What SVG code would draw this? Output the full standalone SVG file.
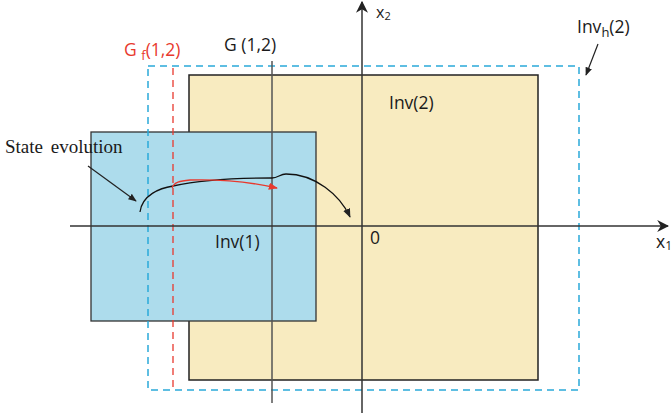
<svg xmlns="http://www.w3.org/2000/svg" width="672" height="416" viewBox="0 0 672 416">
<style>
.lbl{font-family:"Open Sans","Liberation Sans",sans-serif;font-size:17.5px;fill:#1a1a1a}
.ser{font-family:"Liberation Serif",serif;font-size:19px;fill:#1a1a1a;word-spacing:3px}
.axis{stroke:#333;stroke-width:1.5;fill:none}
.grid{stroke:#555;stroke-width:1.5;fill:none}
</style>
<defs>
<marker id="ah" viewBox="0 0 10 10" refX="9" refY="5" markerWidth="7" markerHeight="7" orient="auto"><path d="M0,1 L10,5 L0,9 Z" fill="#222"/></marker>
<marker id="ahr" viewBox="0 0 10 10" refX="9" refY="5" markerWidth="7" markerHeight="7" orient="auto"><path d="M0,1 L10,5 L0,9 Z" fill="#e8392e"/></marker>
<marker id="big" viewBox="0 0 10 10" refX="9" refY="5" markerWidth="12" markerHeight="12" markerUnits="userSpaceOnUse" orient="auto"><path d="M0,0 L10,5 L0,10 L3,5 Z" fill="#222"/></marker>
</defs>
<g id="inv2"><rect x="189" y="75" width="349" height="305" fill="#f8ebc0" stroke="#222" stroke-width="1.5"/><text class="lbl" x="389" y="109">Inv(2)</text></g>
<g id="inv1"><rect x="91" y="132" width="225" height="189" fill="#addcec" stroke="#333" stroke-width="1.3"/><text class="lbl" x="215" y="248">Inv(1)</text></g>
<g id="invh2"><rect x="148" y="66" width="431" height="324" fill="none" stroke="#2aa9d9" stroke-width="1.5" stroke-dasharray="7,5"/><text class="lbl" x="577" y="33">Inv<tspan font-size="13" dy="4">h</tspan><tspan dy="-4">(2)</tspan></text></g>
<g id="gf"><line x1="173" y1="68" x2="173" y2="392" stroke="#e8392e" stroke-width="1.3" stroke-dasharray="7,5"/><text class="lbl" x="124" y="56" style="fill:#e8392e">G <tspan font-size="13" dy="4">f</tspan><tspan dy="-4">(1,2)</tspan></text></g>
<g id="g12"><line x1="272" y1="61" x2="272" y2="403" class="grid"/><text class="lbl" x="224" y="51">G (1,2)</text></g>
<g id="axes"><line x1="70" y1="226" x2="668" y2="226" class="axis" marker-end="url(#big)"/><line x1="362" y1="413" x2="362" y2="2" class="axis" marker-end="url(#big)"/><text class="lbl" x="376" y="18" font-size="16" style="font-size:16px">x<tspan font-size="11" dy="2">2</tspan></text><text class="lbl" x="656" y="248">x<tspan font-size="12" dy="2">1</tspan></text><text class="lbl" x="370" y="244">0</text></g>
<g id="state"><text class="ser" x="5" y="153">State evolution</text></g>
<g id="connectors">
<line x1="88" y1="166" x2="136" y2="201" stroke="#222" stroke-width="1.2" marker-end="url(#ah)"/>
<line x1="598" y1="44" x2="586" y2="75" stroke="#222" stroke-width="1.2" marker-end="url(#ah)"/>
<path d="M140,212 C142,195 160,188 173,186 C200,180 240,178 272,178 C278,178 280,174 286,174 C315,174 340,195 350,217" fill="none" stroke="#111" stroke-width="1.3" marker-end="url(#ah)"/>
<path d="M172,188 C174,182 180,181 190,180 C220,179 250,182 277,188" fill="none" stroke="#e8392e" stroke-width="1.3" marker-end="url(#ahr)"/>
</g>
</svg>
